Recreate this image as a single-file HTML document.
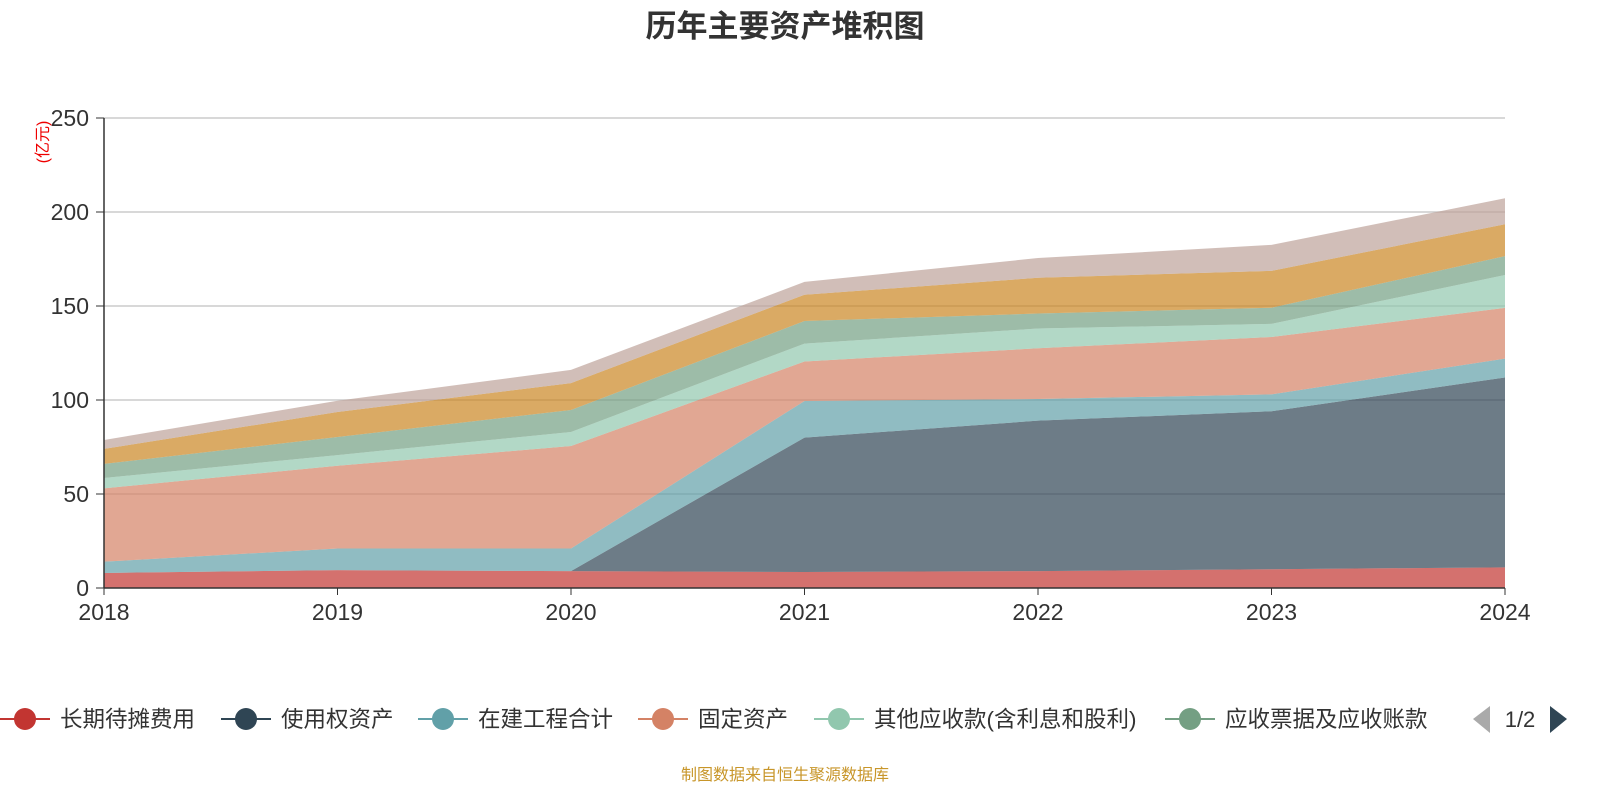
<!DOCTYPE html>
<html><head><meta charset="utf-8"><style>
body{margin:0;background:#fff;width:1600px;height:800px;overflow:hidden;font-family:"Liberation Sans","Noto Sans CJK SC",sans-serif}
</style></head><body>
<svg id="c" width="1600" height="800" xmlns="http://www.w3.org/2000/svg" font-family="Liberation Sans, Noto Sans CJK SC, sans-serif">
<text x="785" y="37" text-anchor="middle" font-size="31" font-weight="bold" fill="#333">历年主要资产堆积图</text>
<text transform="translate(48,142) rotate(-90)" text-anchor="middle" font-size="16" fill="#e00">(亿元)</text>
<g id="grid"></g><g id="areas"></g><g id="axes"></g><g id="legend"></g>
<text x="785" y="780" text-anchor="middle" font-size="16" fill="#c8962a">制图数据来自恒生聚源数据库</text>
</svg>
<script>
const years=['2018','2019','2020','2021','2022','2023','2024'];
const yTicks=[0,50,100,150,200,250];
const seriesNames=['长期待摊费用','使用权资产','在建工程合计','固定资产','其他应收款(含利息和股利)','应收票据及应收账款','存货','其他'];
const colors=['#c23531','#2f4554','#61a0a8','#d48265','#91c7ae','#749f83','#ca8622','#bda29a'];
const s1=[8,9.5,9,8.5,9,10,11];
const s2=[0,0,0,71.5,80,84,101];
const s3=[6,11.5,12,19.5,11.5,9,10];
const s4=[39,44,54.5,21,27,30.5,27];
const s5=[5.5,5.7,7.5,9.5,10.5,7,17.5];
const s6=[7.5,9.6,11.7,12,8,8.6,10];
const s7=[8,13.3,14.3,14,19,19.6,17];
const s8=[4.7,6,7,6.8,10.5,13.8,13.8];
const series=[s1,s2,s3,s4,s5,s6,s7,s8];
const NS='http://www.w3.org/2000/svg';
const X=i=>104+i*(1505-104)/(years.length-1);
const Y=v=>588-v*(470/250);
function mk(t,a,p){const e=document.createElementNS(NS,t);for(const k in a)e.setAttribute(k,a[k]);p.appendChild(e);return e;}
const grid=document.getElementById('grid'),axes=document.getElementById('axes'),areas=document.getElementById('areas'),leg=document.getElementById('legend');
yTicks.forEach(v=>{
 if(v>0){const l=mk('line',{x1:104,x2:1505,y1:Y(v),y2:Y(v),stroke:'#ccc','stroke-width':1.5},grid);
 
 }
 const t=mk('text',{x:89,y:Y(v)+8,'text-anchor':'end','font-size':23,fill:'#333'},axes);t.textContent=v;
 
 
 mk('line',{x1:96,x2:104,y1:Y(v),y2:Y(v),stroke:'#333'},axes);
});
let base=years.map(()=>0);
series.forEach((s,k)=>{
 const top=s.map((v,i)=>base[i]+v);
 let d='M'+top.map((v,i)=>X(i)+','+Y(v)).join('L');
 for(let i=years.length-1;i>=0;i--)d+='L'+X(i)+','+Y(base[i]);
 const p=mk('path',{d:d+'Z',fill:colors[k],'fill-opacity':0.7},areas);
 
 
 base=top;
});
mk('line',{x1:104,x2:104,y1:118,y2:588,stroke:'#333','stroke-width':1.5},axes);
mk('line',{x1:104,x2:1505,y1:588,y2:588,stroke:'#333','stroke-width':1.5},axes);
years.forEach((y,i)=>{
 mk('line',{x1:X(i),x2:X(i),y1:588,y2:595,stroke:'#333'},axes);
 const t=mk('text',{x:X(i),y:620,'text-anchor':'middle','font-size':23,fill:'#333'},axes);t.textContent=y;
 
 
});
const legX=[25,246,443,663,839,1190];
for(let k=0;k<6;k++){
 const g=mk('g',{},leg);
 
 
 mk('line',{x1:legX[k]-25,x2:legX[k]+25,y1:719,y2:719,stroke:colors[k],'stroke-width':2},g);
 mk('circle',{cx:legX[k],cy:719,r:11,fill:colors[k]},g);
 const t=mk('text',{x:legX[k]+35,y:727,'font-size':22.5,fill:'#333'},g);t.textContent=seriesNames[k];
}
const pl=mk('path',{d:'M1490,706L1490,733L1473,719Z',fill:'#aaa'},leg);


const pt=mk('text',{x:1520,y:727,'text-anchor':'middle','font-size':22,fill:'#333'},leg);pt.textContent='1/2';


const pn=mk('path',{d:'M1550,706L1550,733L1567,719Z',fill:'#2f4554'},leg);


</script>
</body></html>
